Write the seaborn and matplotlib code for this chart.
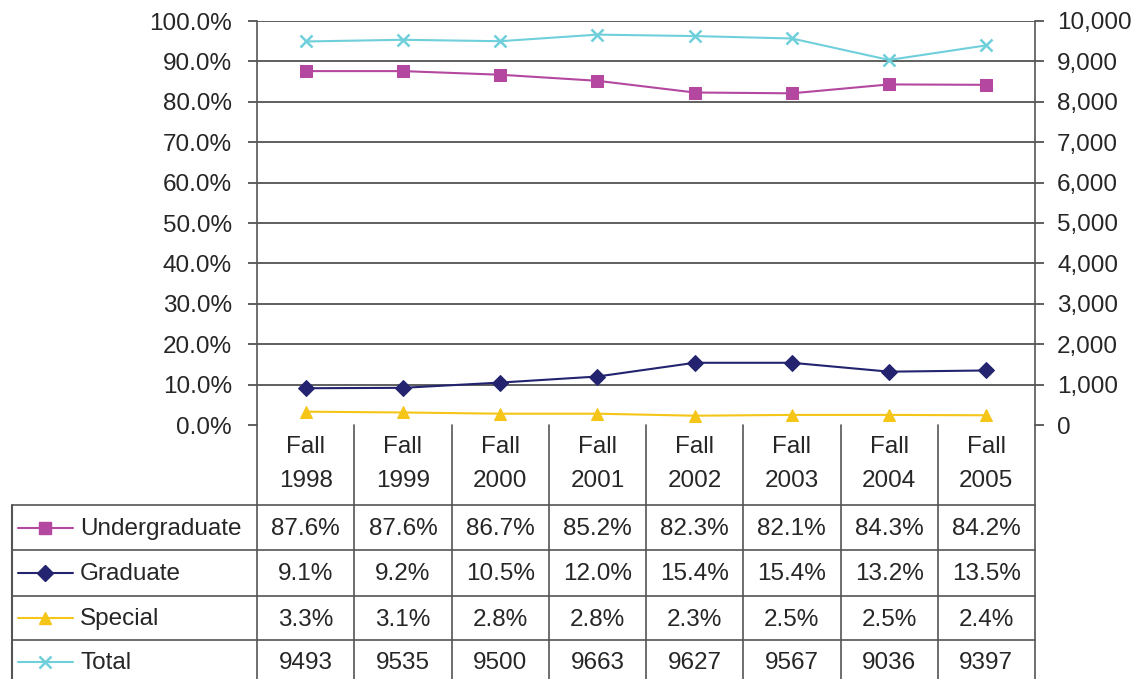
import pandas as pd
import matplotlib.pyplot as plt
import seaborn as sns
from matplotlib.ticker import FuncFormatter

# Data
terms = ['Fall\n1998', 'Fall\n1999', 'Fall\n2000', 'Fall\n2001',
         'Fall\n2002', 'Fall\n2003', 'Fall\n2004', 'Fall\n2005']
undergraduate = [87.6, 87.6, 86.7, 85.2, 82.3, 82.1, 84.3, 84.2]
graduate = [9.1, 9.2, 10.5, 12.0, 15.4, 15.4, 13.2, 13.5]
special = [3.3, 3.1, 2.8, 2.8, 2.3, 2.5, 2.5, 2.4]
total = [9493, 9535, 9500, 9663, 9627, 9567, 9036, 9397]

series_names = ['Undergraduate', 'Graduate', 'Special', 'Total']
colors = {'Undergraduate': '#B4479F', 'Graduate': '#232370',
          'Special': '#F5C518', 'Total': '#6FCFDB'}
markers = {'Undergraduate': 's', 'Graduate': 'D', 'Special': '^', 'Total': 'x'}
msizes = {'Undergraduate': 8, 'Graduate': 8, 'Special': 9, 'Total': 9}


def build_frames():
    idx = list(range(len(terms)))
    pct = pd.DataFrame({
        'idx': idx * 3,
        'value': undergraduate + graduate + special,
        'series': ['Undergraduate'] * 8 + ['Graduate'] * 8 + ['Special'] * 8,
    })
    tot = pd.DataFrame({'idx': idx, 'value': total, 'series': 'Total'})
    return pct, tot


def draw_chart(pct, tot):
    sns.set_style('white')
    plt.rcParams['font.family'] = ['Liberation Sans', 'DejaVu Sans']
    fs = 17.5
    W, H = 1144, 679
    fig = plt.figure(figsize=(W / 100, H / 100), dpi=100)

    left, right, top, bottom = 257, 1035, 21, 425
    ax = fig.add_axes([left / W, 1 - bottom / H, (right - left) / W, (bottom - top) / H])
    ax2 = ax.twinx()

    for name in ['Undergraduate', 'Graduate', 'Special']:
        sns.lineplot(data=pct[pct['series'] == name], x='idx', y='value', ax=ax,
                     color=colors[name], marker=markers[name], markersize=msizes[name],
                     markeredgecolor=colors[name], linewidth=1.5, legend=False, zorder=3)
    sns.lineplot(data=tot, x='idx', y='value', ax=ax2, color=colors['Total'],
                 marker='x', markersize=msizes['Total'], markeredgewidth=1.8,
                 markeredgecolor=colors['Total'], linewidth=1.5, legend=False, zorder=3)

    ax.set_xlim(-0.5, len(terms) - 0.5)
    ax.set_ylim(0, 100)
    ax2.set_ylim(0, 10000)
    ax.set_yticks(range(0, 101, 10))
    ax2.set_yticks(range(0, 10001, 1000))
    ax.yaxis.set_major_formatter(FuncFormatter(lambda v, p: f'{v:.1f}%'))
    ax2.yaxis.set_major_formatter(FuncFormatter(lambda v, p: f'{int(v):,}'))
    ax.set_xticks([])
    for a in (ax, ax2):
        a.set_xlabel('')
        a.set_ylabel('')
        for s in a.spines.values():
            s.set_visible(False)
    ax.tick_params(axis='y', labelsize=fs, length=6.5, width=1.2, color='#444444',
                   direction='out', pad=11.5)
    ax2.tick_params(axis='y', labelsize=fs, length=6.5, width=1.2, color='#444444',
                    direction='out', pad=9.5)
    ax.spines['left'].set_visible(True)
    ax.spines['left'].set_color('#555555')
    ax.spines['left'].set_linewidth(1.2)
    ax2.spines['right'].set_visible(True)
    ax2.spines['right'].set_color('#555555')
    ax2.spines['right'].set_linewidth(1.2)
    for v in range(10, 101, 10):
        ax.axhline(v, color='#444444', lw=1.2, zorder=1)
    ax.set_facecolor('white')
    ax2.patch.set_visible(False)

    # Data table below the plot, x in category units, y in pixel rows
    cw = (right - left) / len(terms)
    x0 = -0.5 - (left - 12) / cw
    tab = fig.add_axes([12 / W, 0, (right - 12) / W, (H - bottom) / H])
    tab.set_xlim(x0, len(terms) - 0.5)
    tab.set_ylim(H, bottom)
    tab.axis('off')
    lc = '#555555'
    rows = [505, 550, 596, 640, 683]
    for y in rows:
        tab.plot([x0, len(terms) - 0.5], [y, y], color=lc, lw=1.2, clip_on=False)
    tab.plot([x0, x0], [rows[0], H], color=lc, lw=1.5, clip_on=False)
    for i in range(len(terms) + 1):
        tab.plot([i - 0.5, i - 0.5], [bottom, H], color=lc, lw=1.2, clip_on=False)

    for i, t in enumerate(terms):
        tab.text(i, 464, t, ha='center', va='center',
                 fontsize=fs, linespacing=1.65)

    values = {
        'Undergraduate': [f'{v:.1f}%' for v in undergraduate],
        'Graduate': [f'{v:.1f}%' for v in graduate],
        'Special': [f'{v:.1f}%' for v in special],
        'Total': [str(v) for v in total],
    }
    px = lambda p: -0.5 - (left - p) / cw
    for r, name in enumerate(series_names):
        yc = (rows[r] + rows[r + 1]) / 2
        tab.plot([px(18), px(73)], [yc, yc], color=colors[name], lw=1.5)
        tab.plot([px(45)], [yc], marker=markers[name], markersize=msizes[name],
                 color=colors[name], markeredgewidth=1.8 if name == 'Total' else 1)
        tab.text(px(80), yc + 1.5, name, ha='left', va='center', fontsize=fs)
        for i, s in enumerate(values[name]):
            tab.text(i, yc + 1.5, s, ha='center', va='center', fontsize=fs)

    fig.savefig('out.png', dpi=100, facecolor='white')


def main():
    pct, tot = build_frames()
    draw_chart(pct, tot)


if __name__ == "__main__":
    main()
